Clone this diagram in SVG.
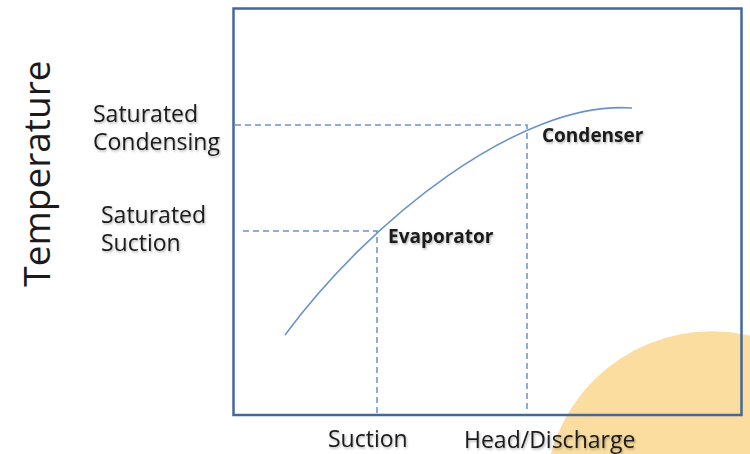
<svg xmlns="http://www.w3.org/2000/svg" width="750" height="454" viewBox="0 0 750 454">
  <defs>
    <filter id="sh" x="-10%" y="-30%" width="130%" height="170%">
      <feDropShadow dx="1" dy="1.5" stdDeviation="1" flood-color="#000" flood-opacity="0.3"/>
    </filter>
  </defs>
  <style>
    text { font-family: "Open Sans", "Liberation Sans", sans-serif; fill: #1a1a1a; }
    .lbl { font-size: 23px; filter: url(#sh); }
    .ax { font-size: 37px; }
    .pt { font-size: 19px; font-weight: bold; filter: url(#sh); }
    .dash { stroke: #6b93c9; stroke-width: 1.5; stroke-dasharray: 6 4; fill: none; }
    .curve { stroke: #6b93c9; stroke-width: 1.6; fill: none; }
  </style>
  <rect width="750" height="454" fill="#fff"/>
  <g id="decor">
    <circle cx="712" cy="498.6" r="167.3" fill="#fadd9f"/>
  </g>
  <g id="frame">
    <rect x="233.5" y="8.5" width="508" height="406.5" fill="none" stroke="#42699a" stroke-width="2.5"/>
  </g>
  <g id="connectors">
    <path class="curve" d="M285,335 C370,220 520,100 632,108"/>
    <path class="dash" d="M235,125 H527 V413"/>
    <path class="dash" d="M243,231 H377 V413"/>
  </g>
  <g id="evaporator">
    <text class="pt" x="388" y="243">Evaporator</text>
  </g>
  <g id="condenser">
    <text class="pt" x="542" y="141.5">Condenser</text>
  </g>
  <g id="y-axis">
    <text class="ax" transform="translate(50,173.5) rotate(-90)" text-anchor="middle">Temperature</text>
    <text class="lbl"><tspan x="93" y="121.5">Saturated</tspan><tspan x="93" y="149.5">Condensing</tspan></text>
    <text class="lbl"><tspan x="101" y="223">Saturated</tspan><tspan x="101" y="251">Suction</tspan></text>
  </g>
  <g id="x-axis">
    <text class="lbl" x="328" y="447">Suction</text>
    <text class="lbl" x="464" y="448">Head/Discharge</text>
  </g>
</svg>
